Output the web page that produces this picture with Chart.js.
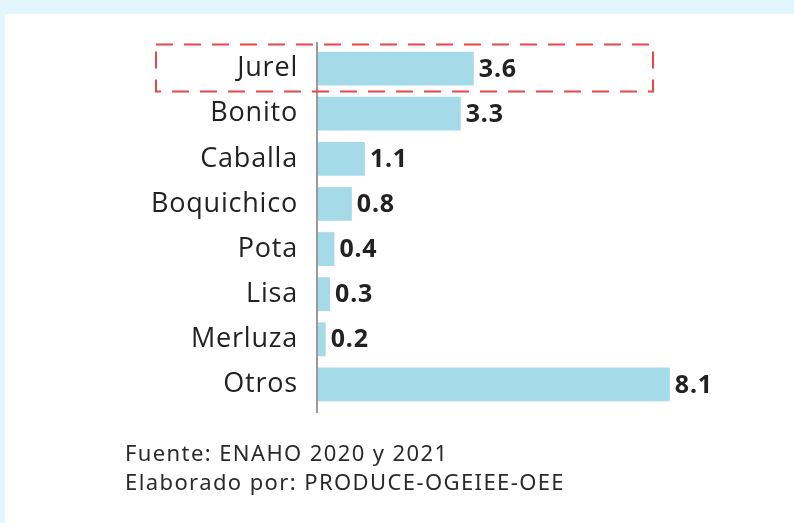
<!DOCTYPE html>
<html>
<head>
<meta charset="utf-8">
<script src="https://cdn.jsdelivr.net/npm/chart.js@4.4.0/dist/chart.umd.min.js"></script>
<style>
  html, body { margin: 0; padding: 0; }
  body { width: 794px; height: 523px; background: #e4f6fd; position: relative; overflow: hidden; }
  .panel { position: absolute; left: 5px; top: 14px; right: 0; bottom: 0; background: #ffffff; }
  #chart { position: absolute; left: 0; top: 0; }
  .note { position: absolute; left: 125px; font-family: "Noto Sans", sans-serif; font-size: 22px; color: #2a2a2a; line-height: 29px; letter-spacing: 1.4px; }
</style>
</head>
<body>
<div class="panel"></div>
<canvas id="chart" width="794" height="523"></canvas>
<div class="note" style="top:438px">Fuente: ENAHO 2020 y 2021<br>Elaborado por: PRODUCE-OGEIEE-OEE</div>
<script>
const especies = ["Jurel", "Bonito", "Caballa", "Boquichico", "Pota", "Lisa", "Merluza", "Otros"];
const valores = [3.6, 3.3, 1.1, 0.8, 0.4, 0.3, 0.2, 8.1];

// slightly wider letter spacing for the category labels
const spacing = {
  id: "spacing",
  beforeDraw(chart) { chart.ctx.letterSpacing = "0.8px"; },
  afterDraw(chart) { chart.ctx.letterSpacing = "0px"; }
};

// axis line, a little longer than the plot area
const axisLine = {
  id: "axisLine",
  afterDatasetsDraw(chart) {
    const { ctx, chartArea } = chart;
    ctx.save();
    ctx.strokeStyle = "#9a9a9a";
    ctx.lineWidth = 2;
    ctx.beginPath();
    ctx.moveTo(chartArea.left, chartArea.top - 4);
    ctx.lineTo(chartArea.left, chartArea.bottom + 6);
    ctx.stroke();
    ctx.restore();
  }
};

// value labels at the end of each bar
const valueLabels = {
  id: "valueLabels",
  afterDatasetsDraw(chart) {
    const { ctx } = chart;
    const meta = chart.getDatasetMeta(0);
    ctx.save();
    ctx.letterSpacing = "0.8px";
    ctx.font = "bold 25px 'Noto Sans', sans-serif";
    ctx.fillStyle = "#222222";
    ctx.textBaseline = "middle";
    meta.data.forEach((bar, i) => {
      ctx.fillText(valores[i].toFixed(1), bar.x + 5, bar.y + 1);
    });
    ctx.restore();
  }
};

// red dashed highlight round the first row
const highlight = {
  id: "highlight",
  afterDraw(chart) {
    const { ctx, scales } = chart;
    const yc = scales.y.getPixelForValue(0);
    ctx.save();
    ctx.strokeStyle = "#e8474a";
    ctx.lineWidth = 2;
    ctx.setLineDash([17, 11]);
    ctx.strokeRect(156, yc - 24, 497, 47);
    ctx.restore();
  }
};

new Chart(document.getElementById("chart"), {
  type: "bar",
  data: {
    labels: especies,
    datasets: [{
      data: valores,
      backgroundColor: "#a5dbe8",
      borderWidth: 0,
      categoryPercentage: 1,
      barPercentage: 0.75
    }]
  },
  options: {
    indexAxis: "y",
    responsive: false,
    animation: false,
    layout: { padding: { top: 46, bottom: 116, right: 85, left: 0 } },
    plugins: { legend: { display: false }, tooltip: { enabled: false } },
    scales: {
      x: { display: false, min: 0, max: 9 },
      y: {
        afterFit(s) { s.width = 317; },
        grid: { display: false, drawTicks: false },
        border: { display: false },
        ticks: {
          padding: 19,
          color: "#222222",
          font: { family: "'Open Sans', sans-serif", size: 27 }
        }
      }
    }
  },
  plugins: [spacing, axisLine, valueLabels, highlight]
});
</script>
</body>
</html>
